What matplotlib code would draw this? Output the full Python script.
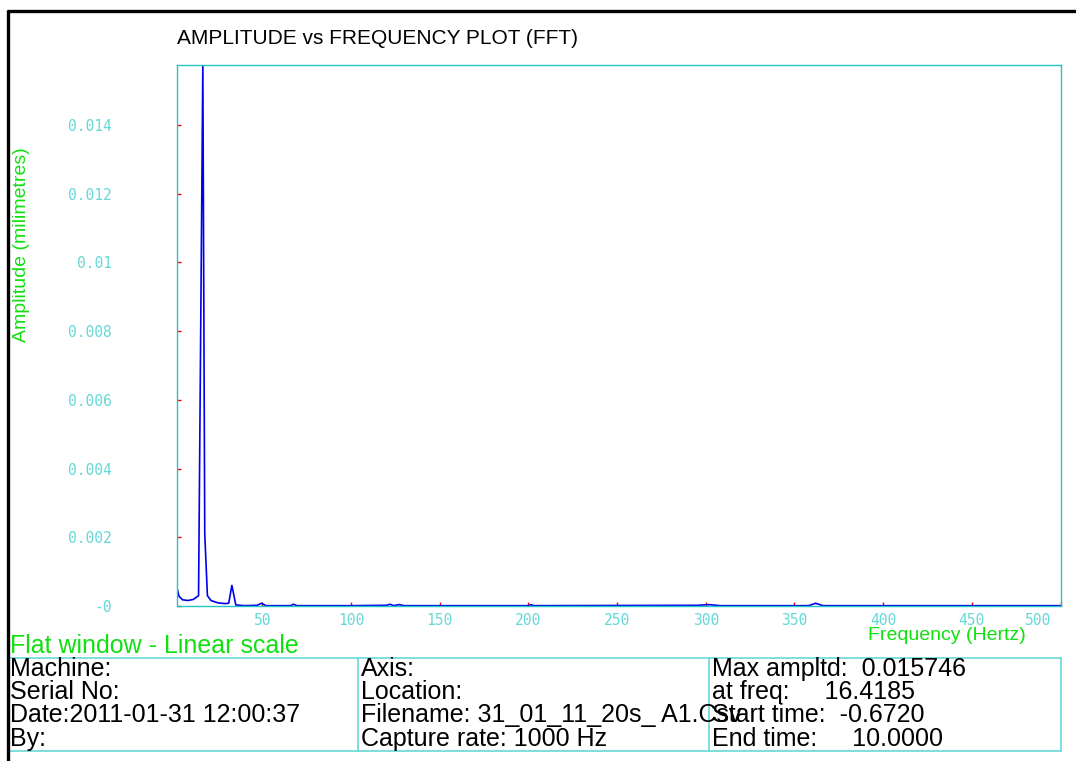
import matplotlib
matplotlib.use('Agg')
import matplotlib.pyplot as plt
import matplotlib.transforms as mtransforms
from matplotlib.lines import Line2D

# spectrum (Hz, mm)
freq = [1.9, 3.0, 5.0, 8.0, 11.0, 14.0, 16.42, 17.5, 19.0, 21.0, 25.0, 29.0, 31.0,
        32.8, 35.0, 40.0, 47.0, 49.5, 52.0, 66.0, 67.5, 69.5, 100.0, 120.0, 122.0,
        124.0, 127.0, 130.0, 200.0, 201.5, 203.0, 295.0, 302.0, 308.0, 358.0,
        362.0, 366.0, 500.0]
amp = [0.00052, 0.00028, 0.00018, 0.00016, 0.00019, 0.00030, 0.015746, 0.0021,
       0.00030, 0.00016, 0.00009, 0.00007, 0.00008, 0.00060, 0.00003, 0.00001,
       0.00002, 0.00008, 0.00001, 0.00001, 0.00005, 0.00001, 0.00001, 0.00002,
       0.00005, 0.00001, 0.00004, 0.00001, 0.00001, 0.00004, 0.00001, 0.00002,
       0.00004, 0.00001, 0.00001, 0.00008, 0.00001, 0.00001]

x_ticks = [50, 100, 150, 200, 250, 300, 350, 400, 450, 500]
y_ticks = [0, 0.002, 0.004, 0.006, 0.008, 0.01, 0.012, 0.014]
y_labels = ['-0', '0.002', '0.004', '0.006', '0.008', '0.01', '0.012', '0.014']

info_rows = [
    ['Machine:', 'Axis:', 'Max ampltd:  0.015746'],
    ['Serial No:', 'Location:', 'at freq:     16.4185'],
    ['Date:2011-01-31 12:00:37', 'Filename: 31_01_11_20s_ A1.Csv', 'Start time:  -0.6720'],
    ['By:', 'Capture rate: 1000 Hz', 'End time:     10.0000'],
]

W, H = 1076, 761
fig = plt.figure(figsize=(W / 100, H / 100), dpi=100)
fig.patch.set_facecolor('white')


def fx(px):
    return px / W


def fy(py):
    return 1 - py / H


sans = ['Liberation Sans', 'DejaVu Sans']
frame_c = '#22c4c4'
light_c = '#66d8d8'
green = '#11e011'

ax = fig.add_axes([fx(177), fy(606), fx(1060.5) - fx(177), fy(65) - fy(606)])
ax.plot(freq, amp, color='#0000ee', lw=1.2)
ax.set_xlim(1.85, 500)
ax.set_ylim(0, 0.015746)
for s in ax.spines.values():
    s.set_color(frame_c)
    s.set_linewidth(1.0)

ax.set_xticks(x_ticks)
ax.set_xticklabels([str(t) for t in x_ticks])
ax.set_yticks(y_ticks)
ax.set_yticklabels(y_labels)
ax.tick_params(axis='both', direction='in', length=3, width=1.0, color='red',
               labelcolor=light_c)
ax.tick_params(axis='x', pad=5)
ax.tick_params(axis='y', pad=47)
for lab in ax.get_xticklabels() + ax.get_yticklabels():
    lab.set_fontfamily('DejaVu Sans Mono')
    lab.set_fontsize(10.5)
last = ax.get_xticklabels()[-1]
last.set_transform(last.get_transform() + mtransforms.ScaledTranslation(-0.22, 0, fig.dpi_scale_trans))

fig.text(fx(177), fy(39), 'AMPLITUDE vs FREQUENCY PLOT (FFT)', family=sans,
         fontsize=15, color='black', ha='left', va='center')
fig.text(fx(22), fy(245), 'Amplitude (milimetres)', family=sans, fontsize=14,
         color=green, rotation=90, ha='center', va='center')
fig.text(fx(868), fy(636), 'Frequency (Hertz)', family=sans, fontsize=14,
         color=green, ha='left', va='center')
fig.text(fx(10), fy(646), 'Flat window - Linear scale', family=sans, fontsize=18,
         color=green, ha='left', va='center')

# info table
tl = dict(color=light_c, lw=1.2, transform=fig.transFigure)
fig.add_artist(Line2D([fx(8), fx(1061)], [fy(658), fy(658)], **tl))
fig.add_artist(Line2D([fx(8), fx(1061)], [fy(751), fy(751)], **tl))
for px in [358, 709, 1061]:
    fig.add_artist(Line2D([fx(px), fx(px)], [fy(658), fy(751)], **tl))

col_x = [10, 361, 712]
row_y = [669, 692, 715, 739]
for r, row in enumerate(info_rows):
    for c, txt in enumerate(row):
        fig.text(fx(col_x[c]), fy(row_y[r]), txt, family=sans, fontsize=18,
                 color='black', ha='left', va='center')

# outer black border (top and left)
bl = dict(color='black', lw=2.4, transform=fig.transFigure, solid_capstyle='butt')
fig.add_artist(Line2D([fx(7), fx(1076)], [fy(11), fy(11)], **bl))
fig.add_artist(Line2D([fx(8), fx(8)], [fy(10), fy(761)], **bl))

fig.savefig('out.png', dpi=100)
